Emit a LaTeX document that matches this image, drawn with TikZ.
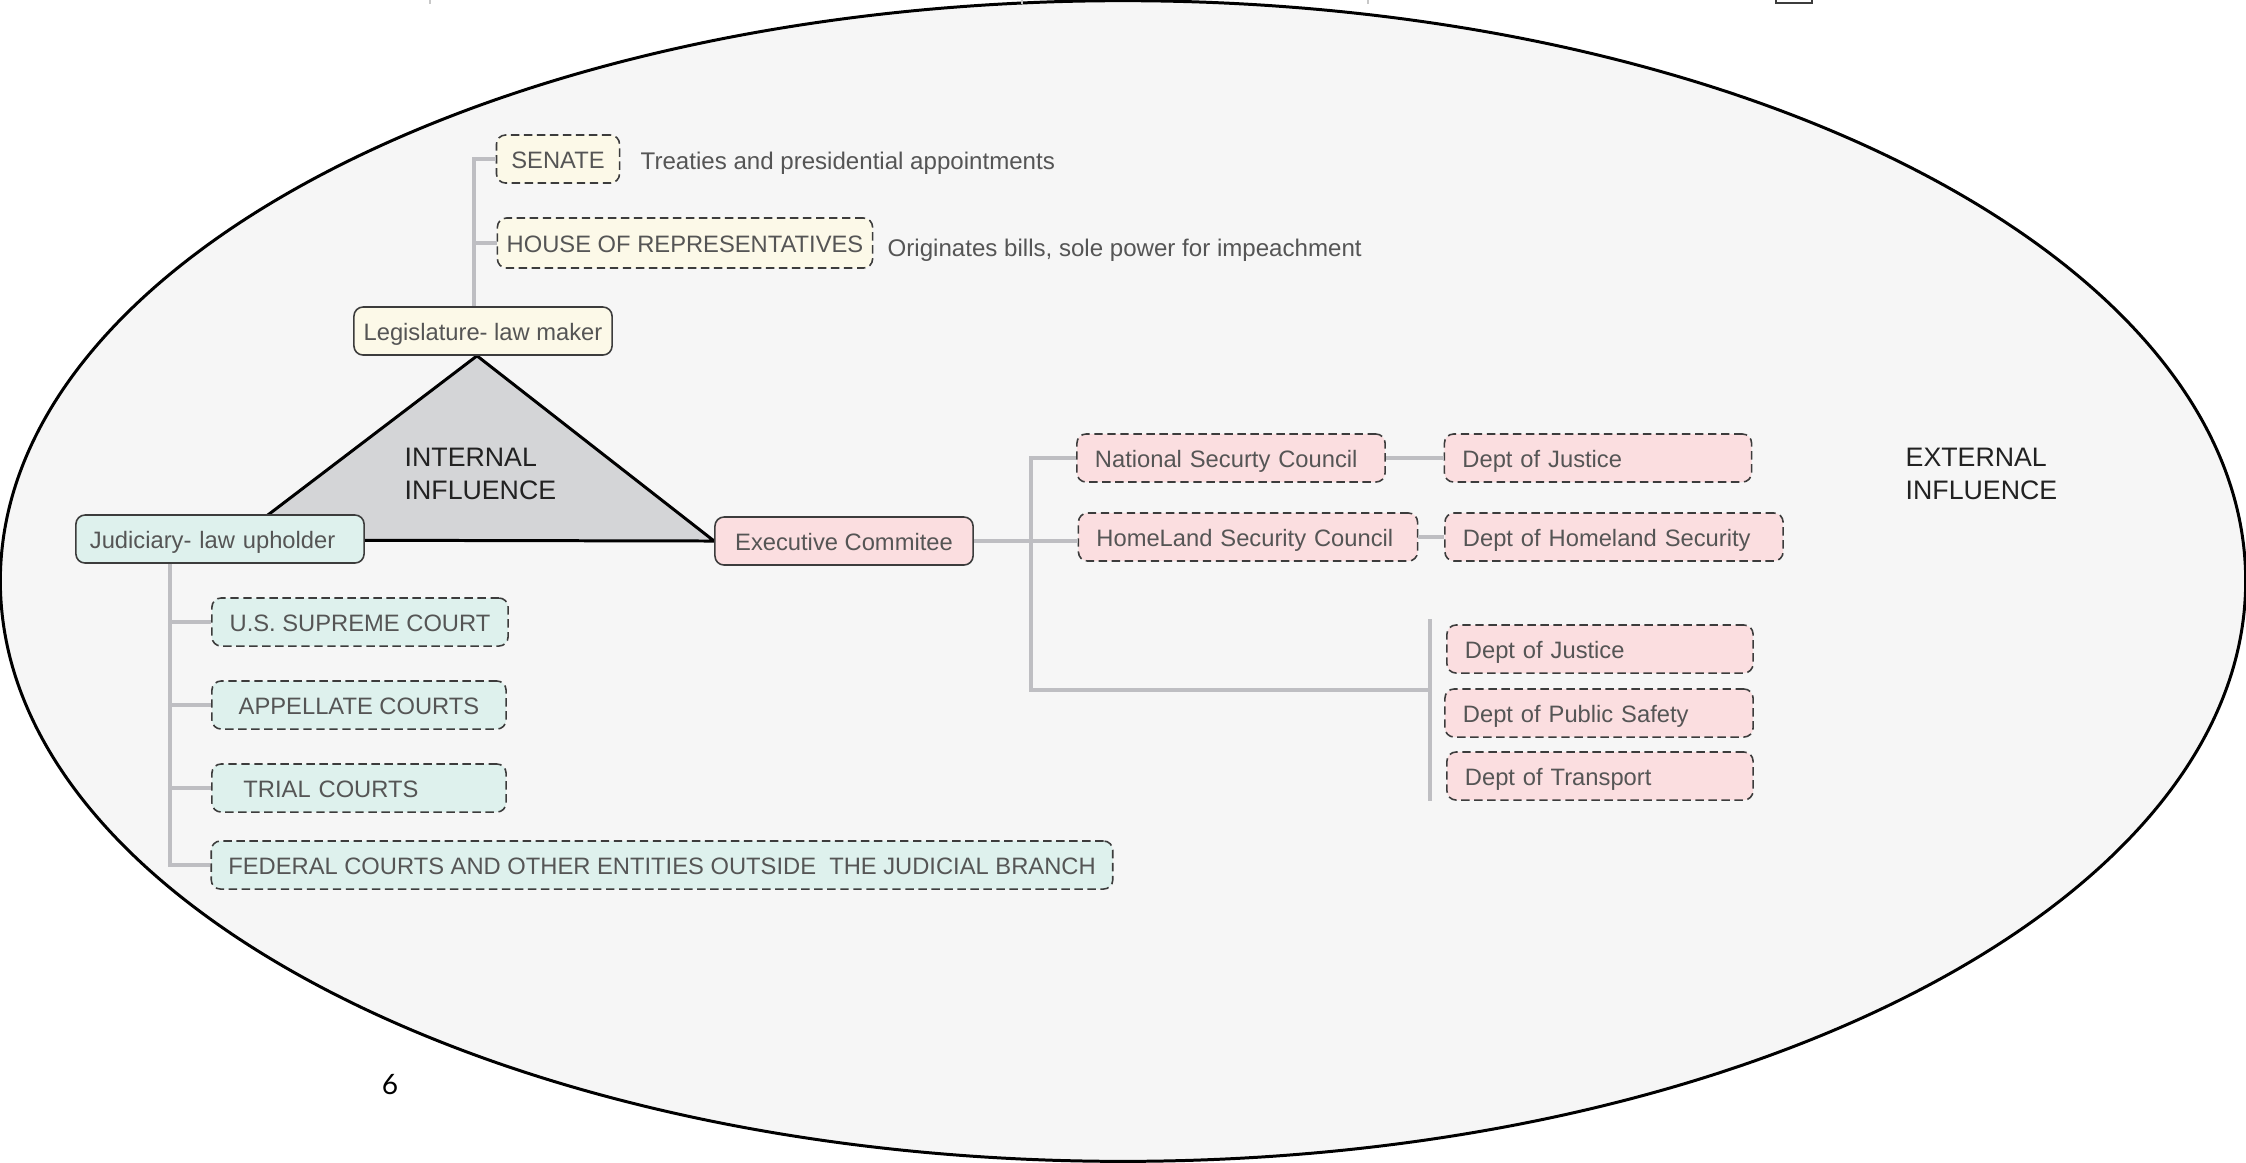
\documentclass[tikz,border=0pt]{standalone}
\usepackage{fontspec}
\setmainfont{Liberation Sans}
\newfontfamily\numfont{Lato}
\definecolor{bgc}{RGB}{246,246,246}
\definecolor{legc}{RGB}{252,249,232}
\definecolor{judc}{RGB}{222,241,237}
\definecolor{exec}{RGB}{251,222,224}
\definecolor{tric}{RGB}{212,213,215}
\definecolor{boxc}{RGB}{60,60,60}
\definecolor{txtc}{RGB}{85,85,85}
\definecolor{inflc}{RGB}{34,34,34}
\definecolor{connc}{RGB}{190,190,194}
\definecolor{fragc}{RGB}{200,200,200}
\pgfdeclarelayer{bglayer}
\pgfdeclarelayer{trilayer}
\pgfsetlayers{bglayer,trilayer,main}
\tikzset{
  boxbase/.style={font=\fontsize{6.75}{8.1}\selectfont, text=txtc, inner sep=0pt,
    text height=6.8pt, text depth=1.4pt, minimum height=0.48cm,
    rounded corners=2.6pt, line width=0.45pt, draw=boxc},
  solidb/.style={boxbase},
  dashb/.style={boxbase, dash pattern=on 2.4pt off 1.3pt},
  legf/.style={fill=legc},
  judf/.style={fill=judc},
  exef/.style={fill=exec},
  cw/.style={minimum width=#1},
  lw/.style={text width=#1, align=left, inner xsep=0.18cm},
  conn/.style={draw=connc, line width=1pt},
  note/.style={font=\fontsize{6.85}{8.2}\selectfont, text=txtc, inner sep=0pt, anchor=base west},
  infl/.style={font=\fontsize{7.6}{9.4}\selectfont, text=inflc, align=left, inner sep=0pt, anchor=west},
  tri/.style={fill=tric, draw=black, line width=0.85pt, line join=miter}
}
\begin{document}
\begin{tikzpicture}[x=0.01cm,y=-0.01cm]
\useasboundingbox (0,0) rectangle (2246,1162);
\begin{pgfonlayer}{bglayer}
  \fill[white] (0,0) rectangle (2246,1162);
  \draw[fill=bgc, draw=black, line width=0.85pt] (1123,581) ellipse [x radius=11.22cm, y radius=5.80cm];
  \draw[fragc, line width=0.4pt] (430,0) -- (430,4);
  \draw[fragc, line width=0.4pt] (1022,0) -- (1022,4);
  \draw[fragc, line width=0.4pt] (1368,0) -- (1368,4);
  \draw[boxc, line width=0.4pt] (1776,-3) rectangle (1812,3);
\end{pgfonlayer}

% main branch nodes
\node[solidb, legf, cw=2.58cm] (leg) at (483,331) {Legislature- law maker};
\node[solidb, judf, text width=2.60cm, align=left, inner xsep=0.14cm] (jud) at (220,539) {Judiciary- law upholder};
\node[solidb, exef, cw=2.58cm] (exe) at (844,541) {Executive Commitee};

% triangle
\coordinate (tl) at (235,540);
\begin{pgfonlayer}{trilayer}
  \draw[tri] ([xshift=-0.06cm]leg.south) -- (exe.west) -- (tl) -- cycle;
\end{pgfonlayer}

\node[infl] (intl) at (404,474) {INTERNAL\\INFLUENCE};
\node[infl] (extl) at (1905,474) {EXTERNAL\\INFLUENCE};

% legislature children
\node[dashb, legf, cw=1.23cm] (senate) at (558,159) {SENATE};
\node[dashb, legf, cw=3.75cm, minimum height=0.50cm] (house) at (685,243) {HOUSE OF REPRESENTATIVES};
\node[note] (treat) at (640,169) {Treaties and presidential appointments};
\node[note] (orig) at (887,256) {Originates bills, sole power for impeachment};
\coordinate (lx) at (474,0);
\draw[conn] (senate.west) -| (lx |- leg.north);
\draw[conn] (house.west) -- (lx |- house.west);

% judiciary children
\node[dashb, judf, cw=2.96cm] (sup) at (360,622) {U.S. SUPREME COURT};
\node[dashb, judf, cw=2.94cm] (app) at (359,705) {APPELLATE COURTS};
\node[dashb, judf, text width=2.31cm, align=left, inner xsep=0.315cm] (trial) at (359,788) {TRIAL COURTS};
\node[dashb, judf, cw=9.01cm] (fed) at (662,865) {FEDERAL COURTS AND OTHER ENTITIES OUTSIDE\ \ THE JUDICIAL BRANCH};
\coordinate (jx) at (170,0);
\draw[conn] (jx |- jud.south) |- (fed.west);
\draw[conn] (sup.west) -- (sup.west -| jx);
\draw[conn] (app.west) -- (app.west -| jx);
\draw[conn] (trial.west) -- (trial.west -| jx);

% executive children
\node[dashb, exef, lw=2.72cm] (nsc) at (1231,458) {National Securty Council};
\node[dashb, exef, lw=3.03cm] (hsc) at (1248,537) {HomeLand Security Council};
\node[dashb, exef, lw=2.71cm] (doja) at (1598,458) {Dept of Justice};
\node[dashb, exef, lw=3.02cm] (dohs) at (1614,537) {Dept of Homeland Security};
\node[dashb, exef, lw=2.70cm] (dojb) at (1600,649) {Dept of Justice};
\node[dashb, exef, lw=2.72cm] (dops) at (1599,713) {Dept of Public Safety};
\node[dashb, exef, lw=2.70cm] (dot) at (1600,776) {Dept of Transport};
\coordinate (ex) at (1031,0);
\coordinate (bar) at (1430,690);
\coordinate (bart) at (1430,619);
\coordinate (barb) at (1430,801);
\draw[conn] (exe.east) -- (exe.east -| hsc.west);
\draw[conn] (nsc.west) -| (ex |- bar) -- (bar);
\draw[conn] (bart) -- (barb);
\draw[conn] (nsc.east) -- (doja.west);
\draw[conn] (hsc.east) -- (dohs.west);

\node[font=\numfont\fontsize{8}{9.6}\selectfont, text=black, inner sep=0pt] (pnum) at (390,1084) {6};
\end{tikzpicture}
\end{document}
